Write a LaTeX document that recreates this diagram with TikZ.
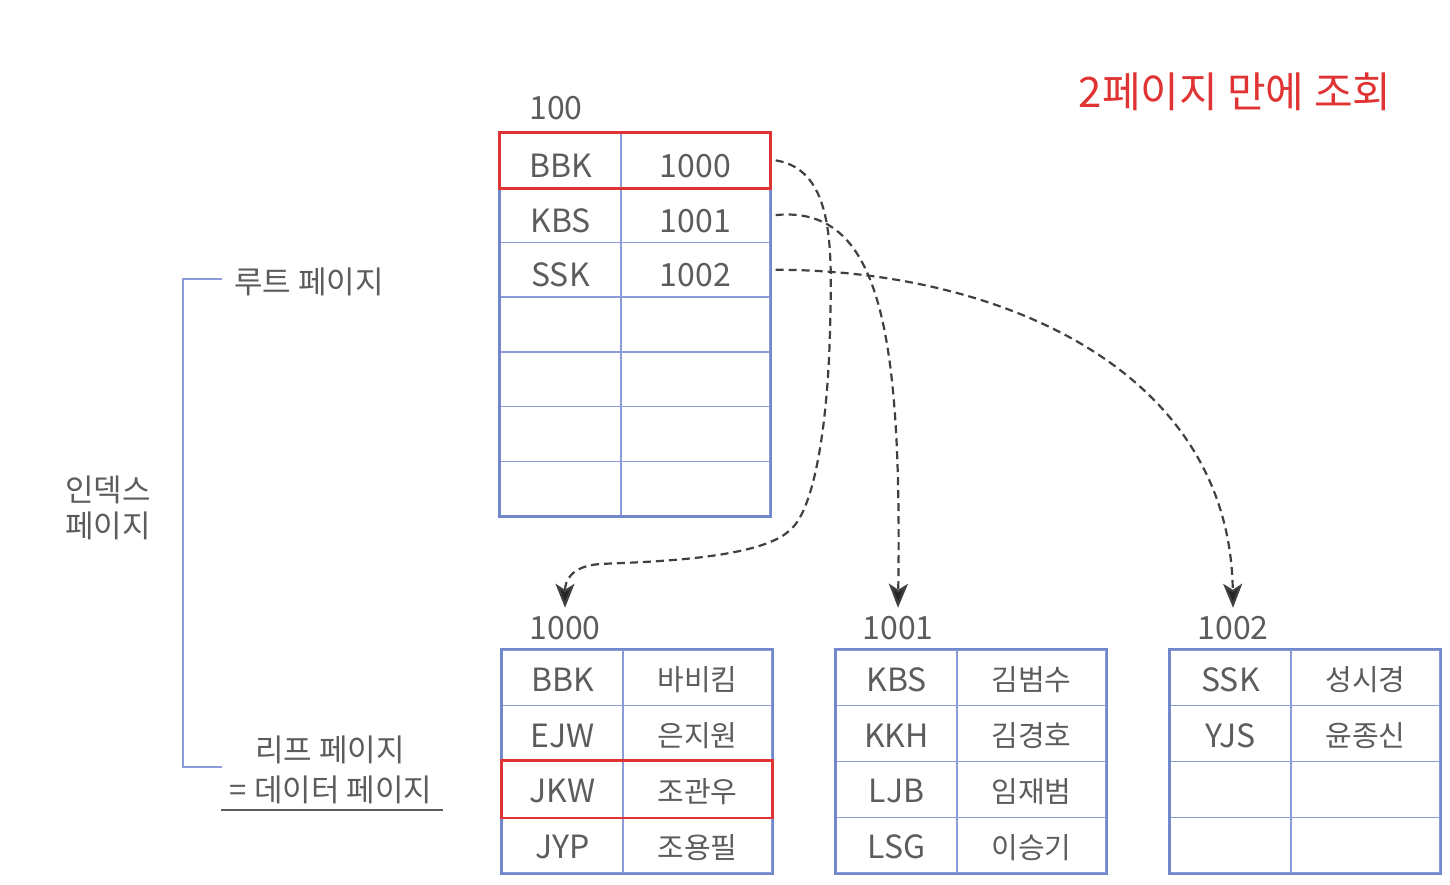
\documentclass[tikz,border=0pt]{standalone}
\usepackage{fontspec}
\setmainfont{Noto Sans CJK KR}
\usetikzlibrary{arrows.meta}
\definecolor{txtgray}{HTML}{5C5C5C}
\definecolor{gridblue}{HTML}{8A9BD8}
\definecolor{edgeblue}{HTML}{7189CC}
\definecolor{hitred}{HTML}{E03333}
\tikzset{
  keycell/.style={draw=gridblue,line width=0.7pt,minimum width=60.5pt,minimum height=27.35pt,
    inner sep=0pt,text=txtgray,text height=17pt,text depth=0pt,font=\fontsize{16}{16}\selectfont},
  valcell/.style={keycell,minimum width=74.5pt},
  leafkey/.style={keycell,minimum height=27.9pt,text height=13.5pt},
  leafval/.style={leafkey,minimum width=74.5pt,text height=13pt,font=\fontsize{14.5}{14.5}\selectfont},
  edge/.style={draw=edgeblue,line width=1.2pt},
  hit/.style={draw=hitred,line width=1.4pt},
  pagelbl/.style={text=txtgray,inner sep=0pt,font=\fontsize{16}{16}\selectfont},
  sidelbl/.style={text=txtgray,inner sep=1pt,font=\fontsize{15.5}{18}\selectfont},
  flow/.style={draw=black!75,line width=1.1pt,dash pattern=on 4pt off 2.5pt,
    -{Stealth[length=12pt,width=9.5pt,inset=3pt,fill=black!85]}}
}
\begin{document}
\begin{tikzpicture}[x=0.5pt,y=-0.5pt]
  \useasboundingbox (0,0) rectangle (1450,884);
  \node[text=hitred,font=\fontsize{21}{21}\selectfont] (title) at (1235,92) {2페이지 만에 조회};
  % root page
  \node[pagelbl] (t100) at (556,108) {100};
  \foreach \k/\v [count=\i] in {BBK/1000,KBS/1001,SSK/1002,/,/,/,/} {
    \node[keycell] (rk\i) at (560.5,{133+54.7*(\i-0.5)}) {\k};
    \node[valcell] (rv\i) at (695.5,{133+54.7*(\i-0.5)}) {\v};
  }
  \draw[edge] (rk1.north west) rectangle (rv7.south east);
  \draw[hit] (rk1.north west) rectangle (rv1.south east);
  % leaf pages
  \node[pagelbl] (t1000) at (565,628) {1000};
  \node[pagelbl] (t1001) at (898,628) {1001};
  \node[pagelbl] (t1002) at (1233,628) {1002};
  \foreach \k/\v [count=\i] in {BBK/바비킴,EJW/은지원,JKW/조관우,JYP/조용필} {
    \node[leafkey] (ak\i) at (562.5,{650+55.75*(\i-0.5)}) {\k};
    \node[leafval] (av\i) at (697.5,{650+55.75*(\i-0.5)}) {\v};
  }
  \foreach \k/\v [count=\i] in {KBS/김범수,KKH/김경호,LJB/임재범,LSG/이승기} {
    \node[leafkey] (bk\i) at (896.5,{650+55.75*(\i-0.5)}) {\k};
    \node[leafval] (bv\i) at (1031.5,{650+55.75*(\i-0.5)}) {\v};
  }
  \foreach \k/\v [count=\i] in {SSK/성시경,YJS/윤종신,/,/} {
    \node[leafkey] (ck\i) at (1230.5,{650+55.75*(\i-0.5)}) {\k};
    \node[leafval] (cv\i) at (1365.5,{650+55.75*(\i-0.5)}) {\v};
  }
  \draw[edge] (ak1.north west) rectangle (av4.south east);
  \draw[edge] (bk1.north west) rectangle (bv4.south east);
  \draw[edge] (ck1.north west) rectangle (cv4.south east);
  \draw[hit] (ak3.north west) rectangle (av3.south east);
  % pointers
  \draw[flow] ([xshift=2.5pt]rv1.east) .. controls (835,170) and (832,250) .. (830,330)
    .. controls (828,420) and (815,510) .. (790,530)
    .. controls (760,560) and (640,562) .. (600,564)
    .. controls (572,566) and (565,580) .. ([yshift=4pt]t1000.north);
  \draw[flow] ([xshift=2.5pt]rv2.east) .. controls (880,205) and (902,330) .. ([yshift=4pt]t1001.north);
  \draw[flow] ([xshift=2.5pt]rv3.east) .. controls (1000,270) and (1230,370) .. ([yshift=4pt]t1002.north);
  % side labels
  \node[sidelbl,anchor=west] (rootlbl) at (232,282) {루트 페이지};
  \node[sidelbl,align=left] (idxlbl) at (108,508) {인덱스\\페이지};
  \node[sidelbl] (leaflbl) at (330,750) {리프 페이지};
  \node[sidelbl,inner sep=3pt] (datalbl) at (331,790) {= 데이터 페이지};
  \draw[txtgray,line width=1pt] ([xshift=-1pt]datalbl.south west) -- ([xshift=2pt]datalbl.south east);
  \coordinate (brtop) at (222,279);
  \coordinate (brbot) at (222,767);
  \draw[gridblue,line width=1pt] (brtop) -- ++(-39,0) |- (brbot);
\end{tikzpicture}
\end{document}
